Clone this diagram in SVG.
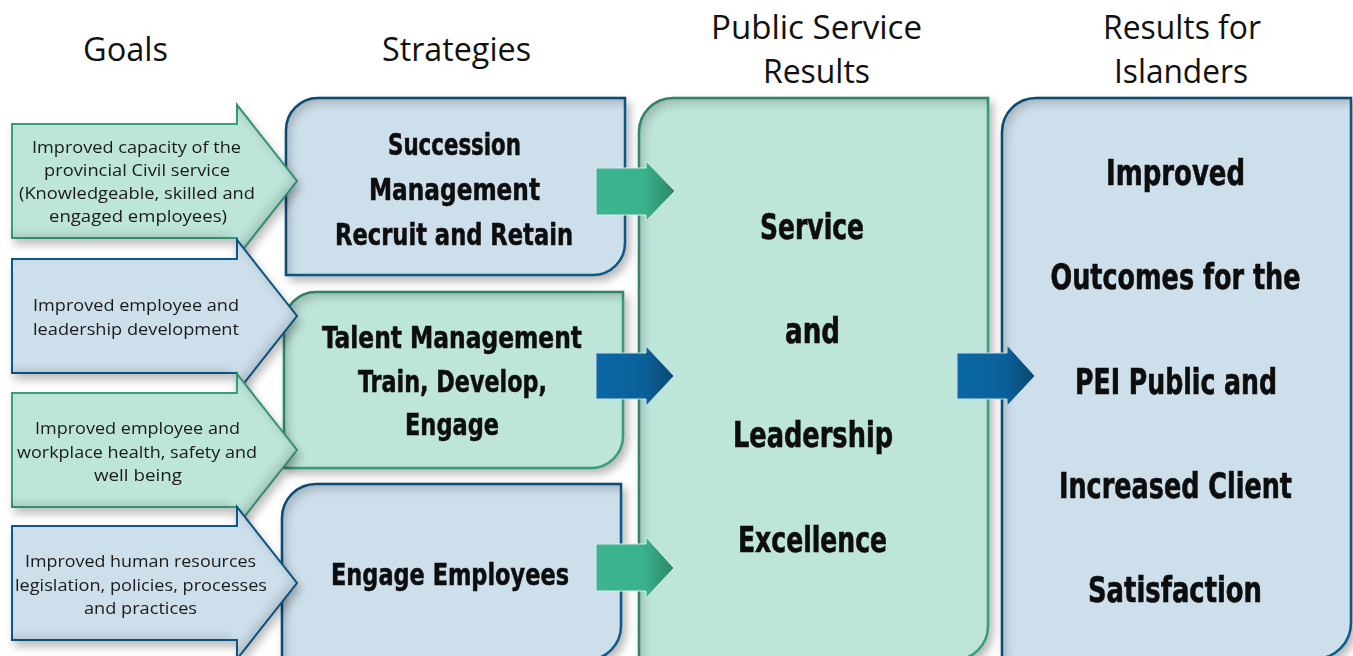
<svg xmlns="http://www.w3.org/2000/svg" width="1353" height="656" viewBox="0 0 1353 656">
  <style>
    .blue-fill { fill: #cddfeb; stroke: #0d5c8c; stroke-width: 2.5; }
    .green-fill { fill: #bde5d9; stroke: #3a9f7f; stroke-width: 2.5; }
    .goal-blue { fill: #cddfeb; stroke: #0d5c8c; stroke-width: 2; }
    .goal-green { fill: #bde5d9; stroke: #3a9f7f; stroke-width: 2; }
    .head { font-family: "Open Sans", "Noto Sans", "DejaVu Sans", sans-serif; font-size: 33px; fill: #111; text-anchor: middle; }
    .goal { font-family: "Open Sans", "Noto Sans", "DejaVu Sans", sans-serif; font-size: 17px; fill: #1a1a1a; text-anchor: middle; }
    .strat { font-family: "Liberation Sans Narrow", "DejaVu Sans Condensed", "DejaVu Sans", sans-serif; font-stretch: condensed; font-weight: bold; font-size: 30px; fill: #0d0d0d; stroke: #0d0d0d; stroke-width: 0.5; text-anchor: middle; }
    .big { font-family: "Liberation Sans Narrow", "DejaVu Sans Condensed", "DejaVu Sans", sans-serif; font-stretch: condensed; font-weight: bold; font-size: 36px; fill: #0d0d0d; stroke: #0d0d0d; stroke-width: 0.6; text-anchor: middle; }
    .flow-green { fill: url(#gradGreen); stroke: #d9efe8; stroke-width: 1; }
    .flow-blue { fill: url(#gradBlue); stroke: #c9dceb; stroke-width: 1; }
  </style>
  <defs>
    <!-- panel shading: drop shadow outside, soft rim inside along top/left -->
    <filter id="panel" x="-5%" y="-5%" width="115%" height="115%" color-interpolation-filters="sRGB">
      <feGaussianBlur in="SourceAlpha" stdDeviation="4" result="b1"/>
      <feOffset in="b1" dx="4" dy="5" result="o1"/>
      <feFlood flood-color="#000" flood-opacity="0.28"/>
      <feComposite in2="o1" operator="in" result="drop"/>
      <feGaussianBlur in="SourceAlpha" stdDeviation="5" result="b2"/>
      <feOffset in="b2" dx="5" dy="6" result="o2"/>
      <feComposite in="SourceAlpha" in2="o2" operator="out" result="rim"/>
      <feFlood flood-color="#000" flood-opacity="0.2"/>
      <feComposite in2="rim" operator="in" result="inset"/>
      <feMerge>
        <feMergeNode in="drop"/>
        <feMergeNode in="SourceGraphic"/>
        <feMergeNode in="inset"/>
      </feMerge>
    </filter>
    <!-- goal arrows: shadow below, slight darkening toward the tip -->
    <filter id="goalShade" x="-5%" y="-10%" width="115%" height="130%" color-interpolation-filters="sRGB">
      <feGaussianBlur in="SourceAlpha" stdDeviation="4" result="b1"/>
      <feOffset in="b1" dx="3" dy="6" result="o1"/>
      <feFlood flood-color="#000" flood-opacity="0.25"/>
      <feComposite in2="o1" operator="in" result="drop"/>
      <feGaussianBlur in="SourceAlpha" stdDeviation="5" result="b2"/>
      <feOffset in="b2" dx="-5" dy="-4" result="o2"/>
      <feComposite in="SourceAlpha" in2="o2" operator="out" result="rim"/>
      <feFlood flood-color="#000" flood-opacity="0.14"/>
      <feComposite in2="rim" operator="in" result="inset"/>
      <feMerge>
        <feMergeNode in="drop"/>
        <feMergeNode in="SourceGraphic"/>
        <feMergeNode in="inset"/>
      </feMerge>
    </filter>
    <linearGradient id="gradGreen" x1="0" y1="0" x2="1" y2="0">
      <stop offset="0" stop-color="#3db592"/>
      <stop offset="0.6" stop-color="#3ab28e"/>
      <stop offset="1" stop-color="#2a8868"/>
    </linearGradient>
    <linearGradient id="gradBlue" x1="0" y1="0" x2="1" y2="0">
      <stop offset="0" stop-color="#0a68a4"/>
      <stop offset="0.6" stop-color="#0a6199"/>
      <stop offset="1" stop-color="#0a4871"/>
    </linearGradient>
  </defs>

  <rect width="1353" height="656" fill="#ffffff"/>

  <!-- column headings -->
  <g id="headings">
    <text class="head" x="125.5" y="61" textLength="85" lengthAdjust="spacingAndGlyphs">Goals</text>
    <text class="head" x="456.5" y="61" textLength="149" lengthAdjust="spacingAndGlyphs">Strategies</text>
    <text class="head" x="816.5" y="39" textLength="211" lengthAdjust="spacingAndGlyphs">Public Service</text>
    <text class="head" x="816.5" y="83" textLength="107" lengthAdjust="spacingAndGlyphs">Results</text>
    <text class="head" x="1182" y="39" textLength="158" lengthAdjust="spacingAndGlyphs">Results for</text>
    <text class="head" x="1181" y="83" textLength="134" lengthAdjust="spacingAndGlyphs">Islanders</text>
  </g>

  <!-- strategies -->
  <g id="strategy-succession" filter="url(#panel)">
    <path class="blue-fill" d="M318,98 H625 V243 A32,32 0 0 1 593,275 H286 V130 A32,32 0 0 1 318,98 Z"/>
    <text class="strat" x="454.5" y="155" textLength="133" lengthAdjust="spacingAndGlyphs">Succession</text>
    <text class="strat" x="454.5" y="200" textLength="171" lengthAdjust="spacingAndGlyphs">Management</text>
    <text class="strat" x="454" y="245" textLength="238" lengthAdjust="spacingAndGlyphs">Recruit and Retain</text>
  </g>
  <g id="strategy-talent" filter="url(#panel)">
    <path class="green-fill" d="M316,292 H623 V436 A32,32 0 0 1 591,468 H284 V324 A32,32 0 0 1 316,292 Z"/>
    <text class="strat" x="452" y="348" textLength="260" lengthAdjust="spacingAndGlyphs">Talent Management</text>
    <text class="strat" x="452.5" y="392" textLength="189" lengthAdjust="spacingAndGlyphs">Train, Develop,</text>
    <text class="strat" x="452" y="435" textLength="94" lengthAdjust="spacingAndGlyphs">Engage</text>
  </g>
  <g id="strategy-engage" filter="url(#panel)">
    <path class="blue-fill" d="M316,484 H621 V626 A34,34 0 0 1 587,660 H282 V518 A34,34 0 0 1 316,484 Z"/>
    <text class="strat" x="450" y="585" textLength="238" lengthAdjust="spacingAndGlyphs">Engage Employees</text>
  </g>

  <!-- goals (arrow-shaped, drawn over the strategy panels) -->
  <g id="goal-capacity" filter="url(#goalShade)">
    <path class="goal-green" d="M12,124 H237 V105 L297,181 L237,257 V238 H12 Z"/>
    <text class="goal" x="136.5" y="153" textLength="209" lengthAdjust="spacingAndGlyphs">Improved capacity of the</text>
    <text class="goal" x="137" y="176" textLength="186" lengthAdjust="spacingAndGlyphs">provincial Civil service</text>
    <text class="goal" x="137" y="199" textLength="236" lengthAdjust="spacingAndGlyphs">(Knowledgeable, skilled and</text>
    <text class="goal" x="138" y="222" textLength="178" lengthAdjust="spacingAndGlyphs">engaged employees)</text>
  </g>
  <g id="goal-development" filter="url(#goalShade)">
    <path class="goal-blue" d="M12,259 H237 V240 L297,316 L237,392 V373 H12 Z"/>
    <text class="goal" x="136" y="311" textLength="206" lengthAdjust="spacingAndGlyphs">Improved employee and</text>
    <text class="goal" x="136" y="335" textLength="206" lengthAdjust="spacingAndGlyphs">leadership development</text>
  </g>
  <g id="goal-wellbeing" filter="url(#goalShade)">
    <path class="goal-green" d="M12,393 H237 V374 L297,450 L237,526 V507 H12 Z"/>
    <text class="goal" x="137.5" y="434" textLength="205" lengthAdjust="spacingAndGlyphs">Improved employee and</text>
    <text class="goal" x="137" y="458" textLength="240" lengthAdjust="spacingAndGlyphs">workplace health, safety and</text>
    <text class="goal" x="138" y="481" textLength="88" lengthAdjust="spacingAndGlyphs">well being</text>
  </g>
  <g id="goal-hr" filter="url(#goalShade)">
    <path class="goal-blue" d="M12,526 H237 V507 L297,583 L237,659 V640 H12 Z"/>
    <text class="goal" x="140.5" y="567" textLength="231" lengthAdjust="spacingAndGlyphs">Improved human resources</text>
    <text class="goal" x="141" y="591" textLength="252" lengthAdjust="spacingAndGlyphs">legislation, policies, processes</text>
    <text class="goal" x="140.5" y="614" textLength="113" lengthAdjust="spacingAndGlyphs">and practices</text>
  </g>

  <!-- public service results -->
  <g id="public-service-results" filter="url(#panel)">
    <path class="green-fill" d="M673,98 H988 V626 A34,34 0 0 1 954,660 H639 V132 A34,34 0 0 1 673,98 Z"/>
    <text class="big" x="812" y="239" textLength="104" lengthAdjust="spacingAndGlyphs">Service</text>
    <text class="big" x="812.5" y="343" textLength="55" lengthAdjust="spacingAndGlyphs">and</text>
    <text class="big" x="813" y="447" textLength="160" lengthAdjust="spacingAndGlyphs">Leadership</text>
    <text class="big" x="812.5" y="552" textLength="149" lengthAdjust="spacingAndGlyphs">Excellence</text>
  </g>

  <!-- results for islanders -->
  <g id="islander-results" filter="url(#panel)">
    <path class="blue-fill" d="M1036,98 H1351 V623 A36,36 0 0 1 1315,659 H1002 V132 A34,34 0 0 1 1036,98 Z"/>
    <text class="big" x="1175.5" y="185" textLength="139" lengthAdjust="spacingAndGlyphs">Improved</text>
    <text class="big" x="1175.5" y="289" font-size="34" textLength="250" lengthAdjust="spacingAndGlyphs">Outcomes for the</text>
    <text class="big" x="1176" y="394" textLength="202" lengthAdjust="spacingAndGlyphs">PEI Public and</text>
    <text class="big" x="1175.5" y="498" textLength="233" lengthAdjust="spacingAndGlyphs">Increased Client</text>
    <text class="big" x="1175" y="602" textLength="174" lengthAdjust="spacingAndGlyphs">Satisfaction</text>
  </g>

  <!-- flow arrows between columns -->
  <g id="connectors">
    <path class="flow-green" d="M596,168 H646 V161 L675,191 L646,221 V215 H596 Z"/>
    <path class="flow-blue" d="M596,353 H646 V346 L674,376 L646,406 V399 H596 Z"/>
    <path class="flow-green" d="M596,544 H646 V537 L674,568 L646,598 V591 H596 Z"/>
    <path class="flow-blue" d="M957,353 H1007 V345 L1035,376 L1007,406 V399 H957 Z"/>
  </g>
</svg>
